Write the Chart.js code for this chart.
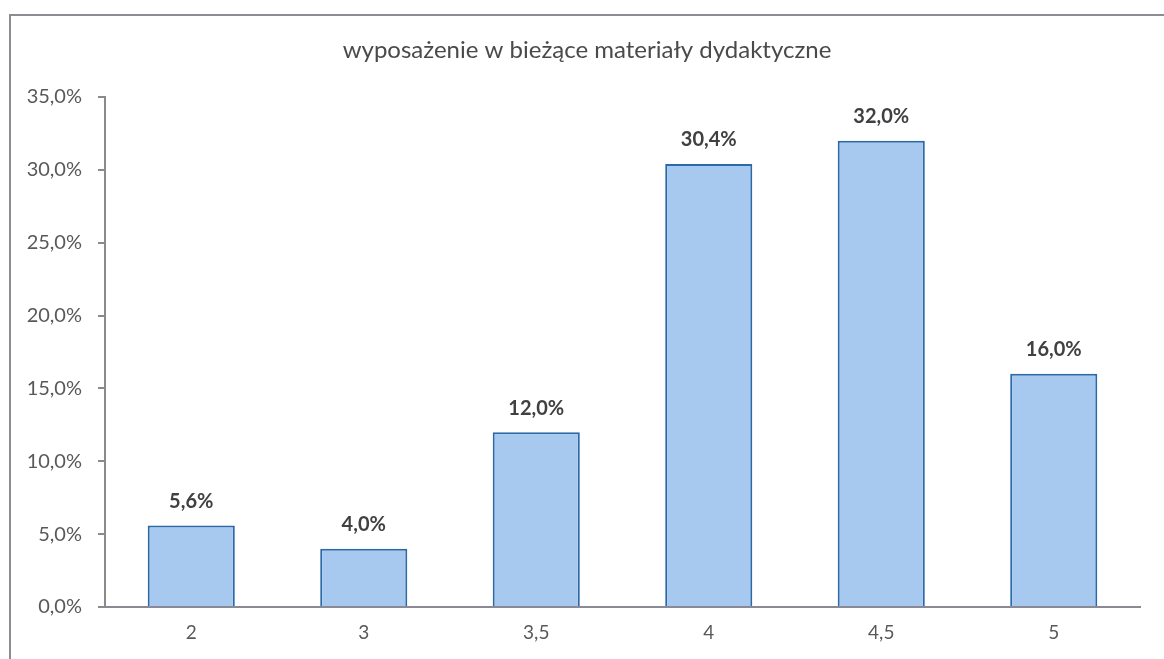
<!DOCTYPE html>
<html>
<head>
<meta charset="utf-8">
<script src="https://cdn.jsdelivr.net/npm/chart.js@4/dist/chart.umd.min.js"></script>
<style>
    body { margin: 0; background: #fff; }
    #wrap { position: relative; width: 1164px; height: 659px; overflow: hidden; }
    #frame { position: absolute; left: 9px; top: 14px; width: 1200px; height: 700px;
             border-top: 2px solid #8c8c94; border-left: 2px solid #8c8c94; }
    canvas { position: absolute; left: 0; top: 0; }
</style>
</head>
<body>
<div id="wrap">
    <div id="frame"></div>
    <canvas id="myChart" width="1164" height="659"></canvas>
</div>
<script>
const categories = ["2", "3", "3,5", "4", "4,5", "5"];
const values = [5.6, 4.0, 12.0, 30.4, 32.0, 16.0];
const yTicks = [0, 5, 10, 15, 20, 25, 30, 35];
const chartTitle = "wyposażenie w bieżące materiały dydaktyczne";

const fmt = (v) => v.toFixed(1).replace(".", ",") + "%";

// labels above the bars + title centred on the whole frame (the Excel chart area)
const barLabels = {
    id: "barLabels",
    afterDatasetsDraw(chart) {
        const ctx = chart.ctx;
        const meta = chart.getDatasetMeta(0);
        ctx.save();
        ctx.font = "bold 20px Lato";
        ctx.fillStyle = "#404040";
        ctx.textAlign = "center";
        ctx.textBaseline = "middle";
        meta.data.forEach((bar, i) => {
            ctx.fillText(fmt(values[i]), bar.x, bar.y - 24);
        });

        ctx.font = "24px Lato";
        ctx.fillStyle = "#4a4a4a";
        ctx.fillText(chartTitle, (9 + chart.width) / 2 + 0.5, 50);
        ctx.restore();
    }
};

new Chart(document.getElementById("myChart").getContext("2d"), {
    type: "bar",
    data: {
        labels: categories,
        datasets: [
            {
                data: values,
                backgroundColor: "#a7c9f0",
                borderColor: "#2b6aa9",
                borderWidth: 2,
                borderSkipped: "bottom",
                barPercentage: 0.505,
                categoryPercentage: 1
            }
        ]
    },
    options: {
        responsive: false,
        animation: false,
        layout: { padding: { left: 10, top: 97, right: 24, bottom: 0 } },
        plugins: {
            legend: { display: false },
            tooltip: { enabled: false },
            title: { display: false }
        },
        scales: {
            x: {
                grid: { display: false, drawTicks: false },
                border: { display: true, color: "#8a8a96", width: 2 },
                ticks: { color: "#595959", padding: 14, font: { family: "Lato", size: 19 } },
                afterFit(scale) { scale.height = 52; }
            },
            y: {
                min: 0,
                max: 35,
                afterBuildTicks(scale) { scale.ticks = yTicks.map(v => ({ value: v })); },
                grid: { display: true, drawOnChartArea: false, drawTicks: true, tickLength: 7, color: "#8a8a8a", lineWidth: 2 },
                border: { display: true, color: "#8a8a8a", width: 2 },
                ticks: { color: "#595959", padding: 16, font: { family: "Lato", size: 20 }, callback: (v) => fmt(v) },
                afterFit(scale) { scale.width = 95; }
            }
        }
    },
    plugins: [barLabels]
});
</script>
</body>
</html>
